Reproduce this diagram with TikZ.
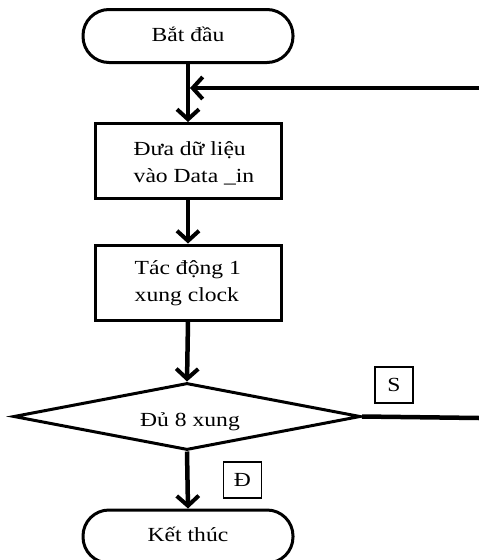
\documentclass[tikz,border=0pt]{standalone}
\usepackage{fontspec}
\setmainfont{Liberation Serif}[FakeStretch=1.18]
\usetikzlibrary{shapes.geometric,arrows.meta}
\begin{document}
\begin{tikzpicture}[x=1pt,y=-1pt,
  every node/.style={font=\fontsize{20}{27}\selectfont},
  term/.style={draw,line width=3pt,rounded corners=26pt,minimum width=210pt,minimum height=53pt,inner sep=0pt},
  procbox/.style={draw,line width=3pt,minimum width=186pt,minimum height=75pt,inner sep=0pt},
  decis/.style={draw,diamond,line width=3pt,minimum width=347pt,minimum height=67pt,inner sep=0pt},
  tag/.style={draw,line width=1.1pt,minimum width=38pt,minimum height=36pt,inner sep=0pt},
  lbl/.style={align=left,inner sep=0pt},
  conn/.style={line width=4.5pt,-{Straight Barb[length=10pt,width=22pt,line width=4pt]}},
  plain/.style={line width=4.5pt}
]
\useasboundingbox (0,0) rectangle (479,560);
\fill[white] (0,0) rectangle (479,560);

\node[term] (start) at (188,36) {\raisebox{4pt}{Bắt đầu}};
\node[procbox] (b1) at (188,161) {};
\node[lbl,anchor=west] (t1) at ([xshift=40pt,yshift=-2pt]b1.west) {Đưa dữ liệu\\vào Data \_in};
\node[procbox] (b2) at (188,282.5) {};
\node[lbl,anchor=west] (t2) at ([xshift=41pt,yshift=-1pt]b2.west) {Tác động 1\\xung clock};
\node[decis] (dec) at (187,416.5) {};
\node (dt) at (190,422) {Đủ 8 xung};
\node[term] (end) at (188,536.5) {\raisebox{5pt}{Kết thúc}};
\node[tag] (s) at (394,385) {S};
\node[tag] (d) at (242.5,480) {Đ};

\coordinate (join) at (188,88);
\coordinate (rin) at (479,88);
\coordinate (rout) at (479,418);

\draw[conn] (start.south) -- (b1.north);
\draw[conn] (rin) -- ([xshift=2pt]join);
\draw[conn] (b1.south) -- (b2.north);
\draw[conn] (b2.south) -- (dec.north);
\draw[conn] (dec.south) -- (end.north);
\draw[plain] (dec.east) -- (rout);
\end{tikzpicture}
\end{document}
